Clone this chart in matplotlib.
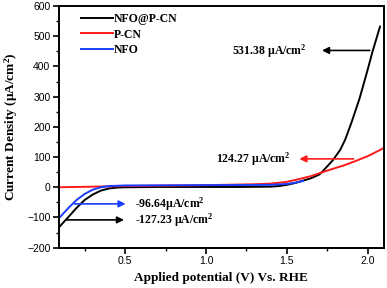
import numpy as np
import matplotlib
matplotlib.use("Agg")
import matplotlib.pyplot as plt

plt.rcParams["mathtext.fontset"] = "custom"
plt.rcParams["mathtext.rm"] = "Liberation Serif:bold"
plt.rcParams["mathtext.bf"] = "Liberation Serif:bold"
plt.rcParams["mathtext.it"] = "Liberation Serif:bold"

# NFO@P-CN (black)
v_black = [0.095, 0.15, 0.2, 0.25, 0.3, 0.35, 0.4, 0.45, 0.5, 0.7, 1.0, 1.2, 1.4, 1.45,
           1.5, 1.55, 1.6, 1.65, 1.7, 1.72, 1.785, 1.83, 1.86, 1.9, 1.95, 2.0, 2.03, 2.076]
j_black = [-130, -98, -68, -42, -24, -11, -4, -1, 0, 1, 1, 1, 2, 4,
           8, 14, 22, 30, 42, 52, 90, 124, 157, 215, 295, 390, 450, 532]

# P-CN (red)
v_red = [0.09, 0.3, 0.5, 1.0, 1.3, 1.4, 1.5, 1.55, 1.65, 1.72, 1.76, 1.85, 1.93, 2.0, 2.1]
j_red = [0, 2, 4, 7, 10, 12, 18, 24, 37, 50, 57, 72, 88, 103, 130]

# NFO (blue)
v_blue = [0.095, 0.15, 0.2, 0.25, 0.3, 0.35, 0.4, 0.5, 1.0, 1.4, 1.5, 1.55, 1.6]
j_blue = [-100, -68, -42, -22, -8, 0, 4, 6, 7, 8, 11, 15, 21]

serif = "Liberation Serif"
sans = "Liberation Sans"

fig = plt.figure(figsize=(3.87, 2.88), dpi=100)
ax = fig.add_axes([0.152, 0.14, 0.840, 0.839])

ax.plot(v_black, j_black, color="black", lw=1.4, label="NFO@P-CN")
ax.plot(v_red, j_red, color="#ff1a1a", lw=1.4, label="P-CN")
ax.plot(v_blue, j_blue, color="#1a3dff", lw=1.4, label="NFO")

ax.set_xlim(0.09, 2.1)
ax.set_ylim(-200, 600)
ax.set_xticks([0.5, 1.0, 1.5, 2.0])
ax.set_xticks([0.25, 0.75, 1.25, 1.75], minor=True)
ax.set_yticks(np.arange(-200, 601, 100))
ax.set_yticks(np.arange(-150, 600, 100), minor=True)
ax.tick_params(which="major", direction="out", length=4, width=1.2, labelsize=7.5, pad=2)
ax.tick_params(which="minor", direction="out", length=2.5, width=1.0)
for lab in ax.get_xticklabels() + ax.get_yticklabels():
    lab.set_fontfamily(sans)
for s in ax.spines.values():
    s.set_linewidth(1.4)

ax.set_xlabel("Applied potential (V) Vs. RHE", fontfamily=serif, fontweight="bold",
              fontsize=9.5, labelpad=4)
ax.set_ylabel(r"Current Density (µA/cm$^{2}$)", fontfamily=serif, fontweight="bold",
              fontsize=9.5, labelpad=5)

leg = ax.legend(loc="upper left", frameon=False, bbox_to_anchor=(0.035, 1.015),
                prop={"family": serif, "weight": "bold", "size": 8.5},
                handlelength=2.75, handletextpad=0.05, labelspacing=0.3)

txt = dict(fontfamily=serif, fontweight="bold", fontsize=8.5, va="center", ha="left")
arrow = dict(arrowstyle="-|>", lw=1.2, mutation_scale=10)
ax.annotate("", xy=(1.70, 453), xytext=(2.03, 453), arrowprops=dict(arrow, color="black"))
ax.text(1.16, 450, r"531.38 µA/cm$^{2}$", **txt)

ax.annotate("", xy=(1.56, 94), xytext=(1.93, 94), arrowprops=dict(arrow, color="#ff1a1a"))
ax.text(1.06, 92, r"124.27 µA/cm$^{2}$", **txt)

ax.annotate("", xy=(0.52, -55), xytext=(0.17, -55), arrowprops=dict(arrow, color="#1a3dff"))
ax.text(0.56, -56, r"-96.64µA/cm$^{2}$", **txt)

ax.annotate("", xy=(0.51, -108), xytext=(0.115, -108), arrowprops=dict(arrow, color="black"))
ax.text(0.56, -109, r"-127.23 µA/cm$^{2}$", **txt)

fig.savefig("out.png", dpi=100)
